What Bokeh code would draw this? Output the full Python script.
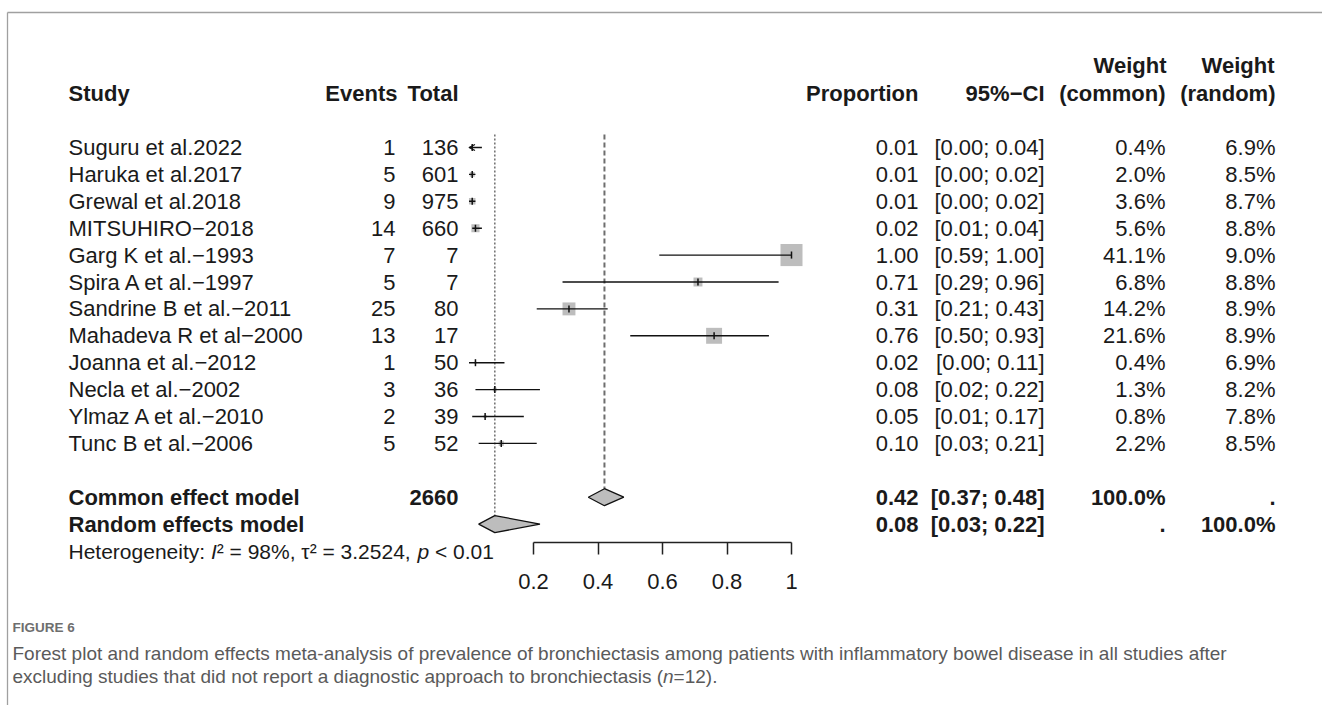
import numpy as np
from bokeh.plotting import figure
from bokeh.models import Range1d, LinearAxis, FixedTicker, ColumnDataSource, Arrow, OpenHead
from bokeh.core.properties import value
from bokeh.embed import file_html
from bokeh.resources import INLINE

# ---------------- data ----------------
studies = ["Suguru et al.2022", "Haruka  et al.2017", "Grewal et al.2018", "MITSUHIRO\u22122018",
           "Garg K et al.\u22121993", "Spira A et al.\u22121997", "Sandrine B et al.\u22122011",
           "Mahadeva R et al\u22122000", "Joanna et  al.\u22122012", "Necla et al.\u22122002",
           "Ylmaz A et al.\u22122010", "Tunc B et al.\u22122006"]
events = [1, 5, 9, 14, 7, 5, 25, 13, 1, 3, 2, 5]
totals = [136, 601, 975, 660, 7, 7, 80, 17, 50, 36, 39, 52]
prop = [0.01, 0.01, 0.01, 0.02, 1.00, 0.71, 0.31, 0.76, 0.02, 0.08, 0.05, 0.10]
lower = [0.00, 0.00, 0.00, 0.01, 0.59, 0.29, 0.21, 0.50, 0.00, 0.02, 0.01, 0.03]
upper = [0.04, 0.02, 0.02, 0.04, 1.00, 0.96, 0.43, 0.93, 0.11, 0.22, 0.17, 0.21]
w_common = [0.4, 2.0, 3.6, 5.6, 41.1, 6.8, 14.2, 21.6, 0.4, 1.3, 0.8, 2.2]
w_random = [6.9, 8.5, 8.7, 8.8, 9.0, 8.8, 8.9, 8.9, 6.9, 8.2, 7.8, 8.5]

total_n = 2660
common_est, common_lo, common_hi = 0.42, 0.37, 0.48
random_est, random_lo, random_hi = 0.08, 0.03, 0.22

tick_vals = [0.2, 0.4, 0.6, 0.8, 1.0]
tick_labels = ["0.2", "0.4", "0.6", "0.8", "1"]

caption_title = "FIGURE 6"
caption_lines = [
    "Forest plot and random effects meta-analysis of prevalence of bronchiectasis among patients with inflammatory bowel disease in all studies after",
    "excluding studies that did not report a diagnostic approach to bronchiectasis (",
]

# ---------------- layout helpers ----------------
W, H = 1322, 705
X0_PX, X0_V, PX_PER_UNIT = 533.0, 0.2, 322.5
ROW0_PX, ROW_PX = 147.0, 26.9


def X(px):
    return X0_V + (px - X0_PX) / PX_PER_UNIT


def Y(py):
    return (py - ROW0_PX) / ROW_PX


FONT = "Liberation Sans"
FS = "22px"
INK = "#1a1a1a"

p = figure(width=W, height=H, x_range=Range1d(X(0), X(W)), y_range=Range1d(Y(H), Y(0)),
           output_backend="svg", toolbar_location=None, min_border=0,
           x_axis_location=None, y_axis_location=None)
p.xgrid.visible = False
p.ygrid.visible = False
p.outline_line_color = None
p.background_fill_color = "white"
p.border_fill_color = "white"


def txt(xs, ys, texts, align="left", bold=False, italic=False, size=FS, color=INK, font=FONT):
    src = ColumnDataSource(dict(x=list(xs), y=list(ys), t=list(texts)))
    style = "bold" if bold else ("italic" if italic else "normal")
    p.text(x="x", y="y", text="t", source=src, text_align=align, text_baseline="middle",
           text_font=value(font), text_font_size=size, text_font_style=style, text_color=color)


rows = list(range(len(studies)))
y_common, y_random, y_het = 13, 14, 15

# frame border
p.segment(x0=[X(7)], y0=[Y(12)], x1=[X(1330)], y1=[Y(12)], line_color="#a0a0a0", line_width=1.3)
p.segment(x0=[X(7)], y0=[Y(12)], x1=[X(7)], y1=[Y(712)], line_color="#a0a0a0", line_width=1.3)

# headers
hy = -2.0
txt([X(68)], [hy], ["Study"], bold=True)
txt([X(397), X(458), X(918), X(1044), X(1165), X(1275)], [hy] * 6,
    ["Events", "Total", "Proportion", "95%\u2212CI", "(common)", "(random)"], align="right", bold=True)
txt([X(1166), X(1274)], [-3.05] * 2, ["Weight", "Weight"], align="right", bold=True)

# study rows text
txt([X(68)] * len(rows), rows, studies)
txt([X(395)] * len(rows), rows, [str(e) for e in events], align="right")
txt([X(458)] * len(rows), rows, [str(n) for n in totals], align="right")
txt([X(918)] * len(rows), rows, [f"{v:.2f}" for v in prop], align="right")
txt([X(1044)] * len(rows), rows, [f"[{a:.2f}; {b:.2f}]" for a, b in zip(lower, upper)], align="right")
txt([X(1165)] * len(rows), rows, [f"{w:.1f}%" for w in w_common], align="right")
txt([X(1275)] * len(rows), rows, [f"{w:.1f}%" for w in w_random], align="right")

# pooled rows
txt([X(68), X(68)], [y_common, y_random], ["Common effect model", "Random effects model"], bold=True)
txt([X(458)], [y_common], [str(total_n)], align="right", bold=True)
txt([X(918), X(918)], [y_common, y_random], [f"{common_est:.2f}", f"{random_est:.2f}"], align="right", bold=True)
txt([X(1044), X(1044)], [y_common, y_random],
    [f"[{common_lo:.2f}; {common_hi:.2f}]", f"[{random_lo:.2f}; {random_hi:.2f}]"], align="right", bold=True)
txt([X(1165), X(1165)], [y_common, y_random], ["100.0%", "."], align="right", bold=True)
txt([X(1275), X(1275)], [y_common, y_random], [".", "100.0%"], align="right", bold=True)

# heterogeneity line (pieces for italics); leading spaces are skipped by advancing the cursor
het_fs = 21.0
widths = {" ": .278, "%": .889, ",": .278, ".": .278, ":": .278, "<": .584, "=": .584,
          "H": .722, "I": .278, "e": .556, "t": .278, "r": .333, "o": .556, "g": .556,
          "n": .556, "i": .222, "y": .5, "p": .556, "\u00b2": .333, "\u03c4": .44}
pieces = [("Heterogeneity: ", False), ("I", True), ("\u00b2 = 98%, \u03c4\u00b2 = 3.2524, ", False),
          ("p", True), (" < 0.01", False)]
cx = 68.0
for s, it in pieces:
    lead = len(s) - len(s.lstrip(" "))
    txt([X(cx + lead * widths[" "] * het_fs)], [y_het], [s.strip(" ")], italic=it, size=f"{het_fs}px")
    cx += sum(widths.get(ch, .556) for ch in s) * het_fs

# reference lines
h = 8.5 / ROW_PX
p.segment(x0=[common_est], y0=[Y(134)], x1=[common_est], y1=[y_common - h],
          line_color="#6e6e6e", line_width=2, line_dash="5 3")
p.segment(x0=[random_est], y0=[Y(134)], x1=[random_est], y1=[y_random - h],
          line_color="#777777", line_width=1.6, line_dash="2 2")

# squares (area proportional to common weight)
sizes = [3.43 * np.sqrt(w) for w in w_common]
p.scatter(x=prop, y=rows, marker="square", size=sizes, fill_color="#bdbdbd", line_color=None)

# CI lines
seg_idx = [i for i in rows if i != 0]
p.segment(x0=[lower[i] for i in seg_idx], y0=seg_idx, x1=[upper[i] for i in seg_idx], y1=seg_idx,
          line_color="#111111", line_width=1.4)
# first study: CI drawn with arrow at the lower end
p.add_layout(Arrow(end=OpenHead(size=6, line_width=1.3, line_color="#111111"),
                   x_start=upper[0], y_start=0, x_end=lower[0], y_end=0,
                   line_color="#111111", line_width=1.4))

# point estimate ticks
p.scatter(x=prop, y=rows, marker="dash", angle=np.pi / 2, size=7, line_color="#111111", line_width=1.5)

# diamonds
p.patches(xs=[[common_lo, common_est, common_hi, common_est], [random_lo, random_est, random_hi, random_est]],
          ys=[[y_common, y_common - h, y_common, y_common + h], [y_random, y_random - h, y_random, y_random + h]],
          fill_color="#bdbdbd", line_color="#111111", line_width=1.3)

# x axis
ax = LinearAxis(fixed_location=Y(542), bounds=(tick_vals[0], tick_vals[-1]),
                ticker=FixedTicker(ticks=tick_vals, minor_ticks=[]),
                major_label_overrides=dict(zip(tick_vals, tick_labels)))
ax.axis_line_color = "#222222"
ax.axis_line_width = 1.5
ax.major_tick_line_color = "#222222"
ax.major_tick_line_width = 1.5
ax.major_tick_out = 12
ax.major_tick_in = 0
ax.minor_tick_out = 0
ax.major_label_standoff = 19
ax.major_label_text_font = FONT
ax.major_label_text_font_size = FS
ax.major_label_text_color = INK
p.add_layout(ax, "below")

# caption
cap_fs = 19.0
txt([X(12)], [Y(627)], [caption_title], bold=True, size="13.5px", color="#6e6e6e")
txt([X(12)], [Y(653)], [caption_lines[0]], size=f"{cap_fs}px", color="#5a5a5a")
cap2 = caption_lines[1]
txt([X(12)], [Y(676)], [cap2], size=f"{cap_fs}px", color="#5a5a5a")
cw = {" ": .278, "(": .333, ")": .333, "=": .584, ".": .278, "i": .222, "l": .222, "t": .278,
      "r": .333, "f": .278, "j": .222, "m": .833, "w": .722, "c": .5, "s": .5, "k": .5, "v": .5,
      "x": .5, "y": .5, "z": .5}
cap2_w = sum(cw.get(ch, .556) for ch in cap2) * cap_fs
txt([X(12 + cap2_w)], [Y(676)], ["n"], italic=True, size=f"{cap_fs}px", color="#5a5a5a")
txt([X(12 + cap2_w + .556 * cap_fs)], [Y(676)], ["=12)."], size=f"{cap_fs}px", color="#5a5a5a")

open("out.html", "w").write(file_html(p, INLINE))
